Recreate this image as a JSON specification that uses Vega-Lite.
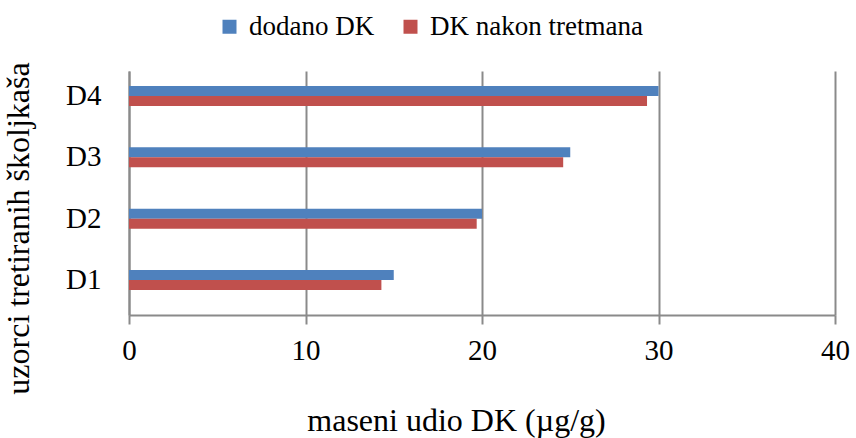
{
  "$schema": "https://vega.github.io/schema/vega-lite/v6.json",
  "width": 706,
  "height": 244,
  "autosize": {"type": "none"},
  "padding": {"left": 129, "top": 71, "right": 21, "bottom": 123},
  "background": "white",
  "config": {
    "view": {"stroke": null},
    "font": "Liberation Serif, Times New Roman, serif"
  },
  "data": {
    "values": [
      {"uzorak": "D1", "serija": "dodano DK", "vrijednost": 15.0},
      {"uzorak": "D1", "serija": "DK nakon tretmana", "vrijednost": 14.3},
      {"uzorak": "D2", "serija": "dodano DK", "vrijednost": 20.0},
      {"uzorak": "D2", "serija": "DK nakon tretmana", "vrijednost": 19.7},
      {"uzorak": "D3", "serija": "dodano DK", "vrijednost": 25.0},
      {"uzorak": "D3", "serija": "DK nakon tretmana", "vrijednost": 24.6},
      {"uzorak": "D4", "serija": "dodano DK", "vrijednost": 30.0},
      {"uzorak": "D4", "serija": "DK nakon tretmana", "vrijednost": 29.35}
    ]
  },
  "mark": {"type": "bar", "stroke": null},
  "encoding": {
    "y": {
      "field": "uzorak",
      "type": "nominal",
      "sort": ["D4", "D3", "D2", "D1"],
      "scale": {"paddingInner": 0.674, "paddingOuter": 0.326, "align": 0.375},
      "axis": {
        "title": "uzorci tretiranih školjkaša",
        "titleFont": "Liberation Serif, Times New Roman, serif",
        "titleFontSize": 32,
        "titleFontWeight": "normal",
        "titleColor": "black",
        "titleAngle": -90,
        "titleX": -111,
        "titleY": 157,
        "titleAlign": "center",
        "titleBaseline": "middle",
        "labelFont": "Liberation Serif, Times New Roman, serif",
        "labelFontSize": 29,
        "labelColor": "black",
        "labelPadding": 28,
        "labelLimit": 0,
        "ticks": false,
        "tickSize": 0,
        "domainColor": "#8a8a8a",
        "domainWidth": 2,
        "grid": false
      }
    },
    "yOffset": {"field": "serija", "type": "nominal", "sort": ["dodano DK", "DK nakon tretmana"]},
    "x": {
      "field": "vrijednost",
      "type": "quantitative",
      "scale": {"domain": [0, 40], "nice": false},
      "axis": {
        "values": [0, 10, 20, 30, 40],
        "title": "maseni udio DK (µg/g)",
        "titleFont": "Liberation Serif, Times New Roman, serif",
        "titleFontSize": 32,
        "titleFontWeight": "normal",
        "titleColor": "black",
        "titleX": 327,
        "titleY": 105,
        "titleAlign": "center",
        "titleBaseline": "middle",
        "labelFont": "Liberation Serif, Times New Roman, serif",
        "labelFontSize": 29,
        "labelColor": "black",
        "labelPadding": 12,
        "labelFlush": false,
        "labelLimit": 0,
        "tickSize": 9,
        "tickColor": "#8a8a8a",
        "tickWidth": 2,
        "domainColor": "#8a8a8a",
        "domainWidth": 2,
        "grid": true,
        "gridColor": "#8a8a8a",
        "gridWidth": 2
      }
    },
    "color": {
      "field": "serija",
      "type": "nominal",
      "sort": ["dodano DK", "DK nakon tretmana"],
      "scale": {"domain": ["dodano DK", "DK nakon tretmana"], "range": ["#4F81BD", "#C0504D"]},
      "legend": {
        "title": null,
        "orient": "none",
        "direction": "horizontal",
        "legendX": 87,
        "legendY": -58,
        "symbolType": "square",
        "symbolSize": 196,
        "symbolStrokeWidth": 0,
        "labelFont": "Liberation Serif, Times New Roman, serif",
        "labelFontSize": 27,
        "labelColor": "black",
        "labelOffset": 6,
        "labelLimit": 0,
        "columnPadding": 22
      }
    }
  }
}
